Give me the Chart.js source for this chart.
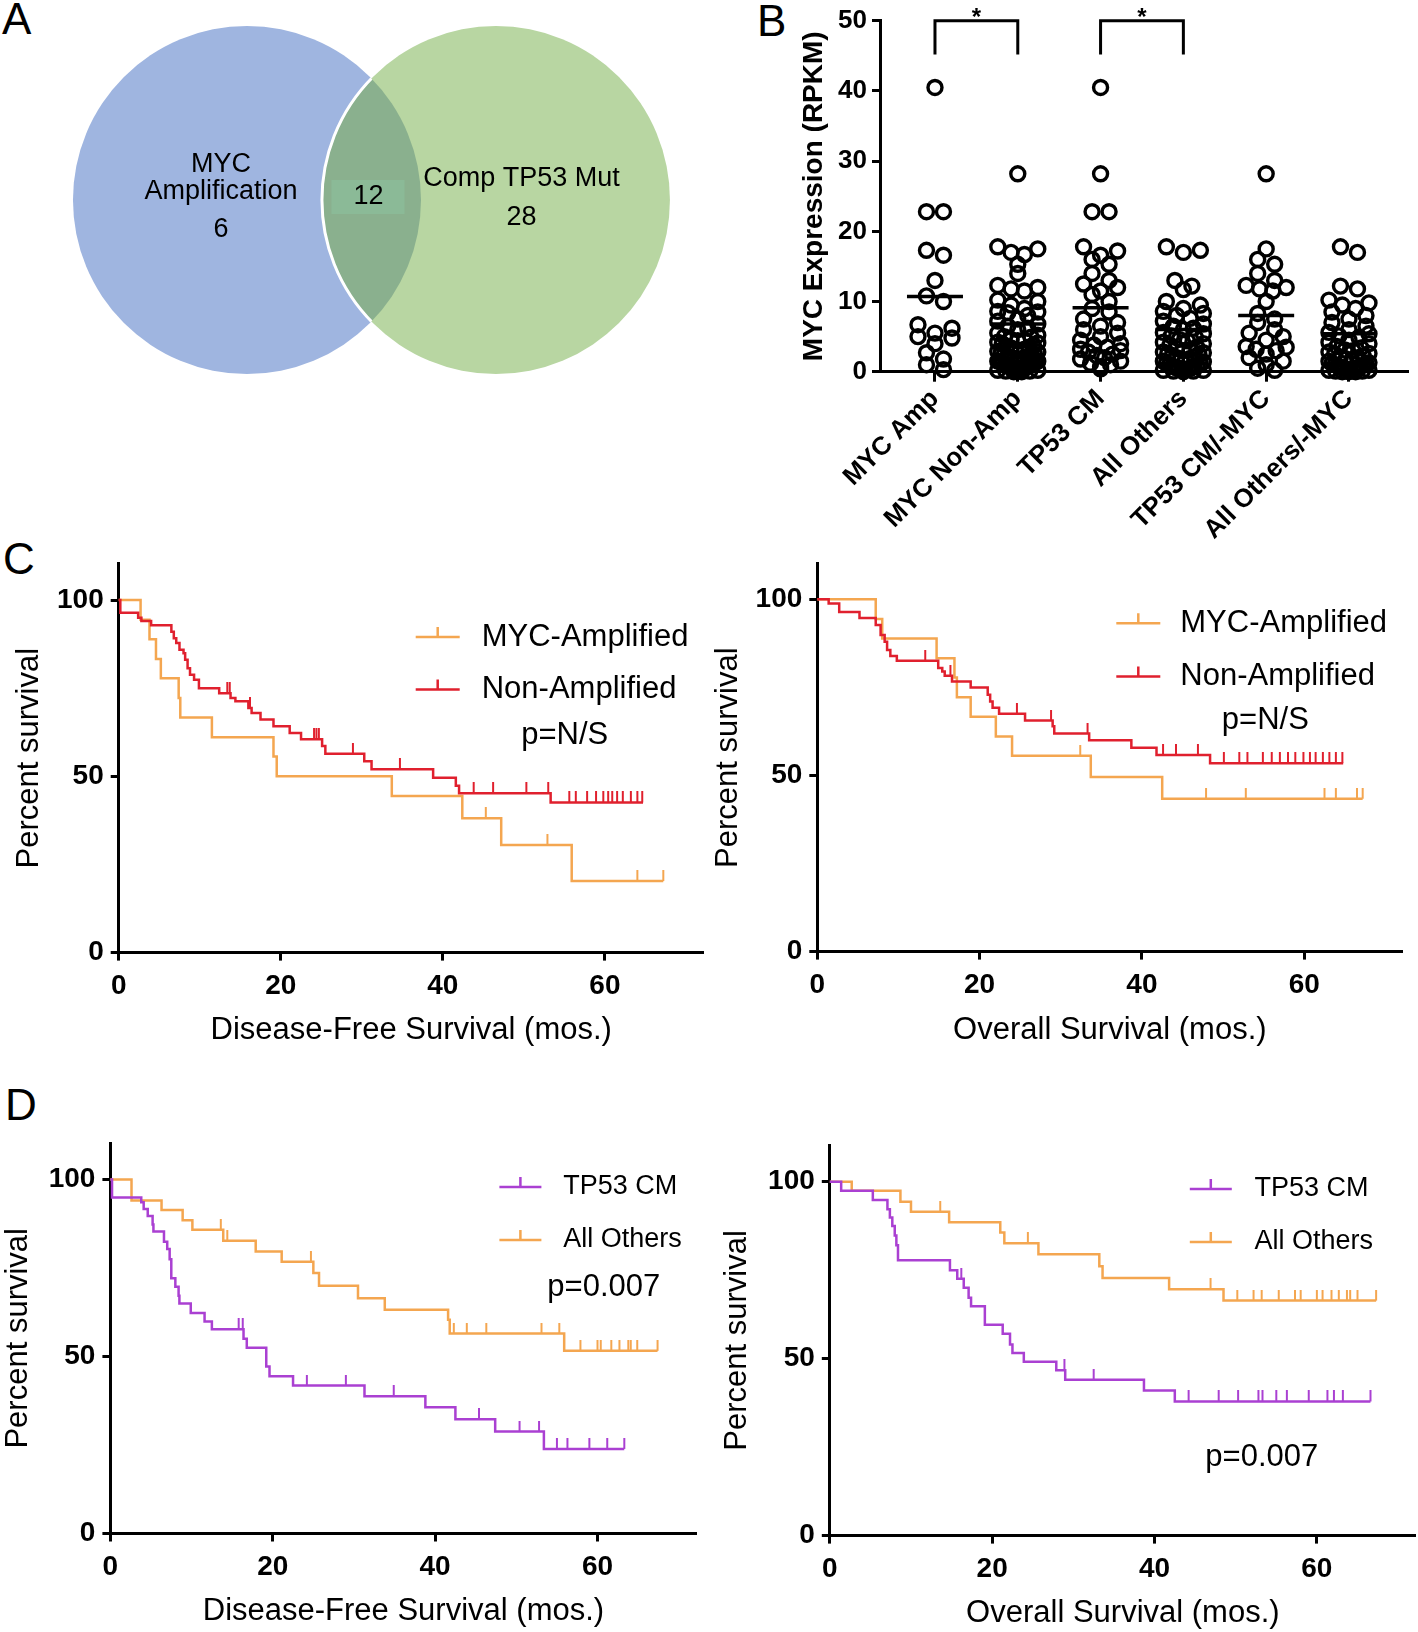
<!DOCTYPE html>
<html><head><meta charset="utf-8">
<script src="https://cdn.jsdelivr.net/npm/chart.js@4"></script>
<style>
body{margin:0;background:#fff;width:1418px;height:1632px;position:relative;overflow:hidden;font-family:'Liberation Sans',Arial,sans-serif;}
canvas{position:absolute;}
.pl{position:absolute;font-size:44px;line-height:1;color:#000;}
</style></head><body>
<div class="pl" style="left:2px;top:-3px">A</div>
<div class="pl" style="left:757px;top:-1px">B</div>
<div class="pl" style="left:3px;top:537px">C</div>
<div class="pl" style="left:5px;top:1083px">D</div>
<canvas id="venn" width="720" height="400" style="left:0;top:0"></canvas>
<canvas id="dots" width="678" height="560" style="left:740px;top:0"></canvas>
<canvas id="cDfs" width="712" height="510" style="left:0;top:540px"></canvas>
<canvas id="cOs" width="706" height="510" style="left:712px;top:540px"></canvas>
<canvas id="dDfs" width="712" height="542" style="left:0;top:1090px"></canvas>
<canvas id="dOs" width="706" height="542" style="left:712px;top:1090px"></canvas>
<script>
// ================= DATA =================
// Panel A (Venn)
const vennSetNames = [['MYC', 'Amplification'], ['Comp TP53 Mut']];
const vennOnlyCounts = [6, 28];
const vennSharedCount = 12;
const vennSetIndex = [0, 1];

// Panel B (dot plot)
const groupLabels = ['MYC Amp', 'MYC Non-Amp', 'TP53 CM', 'All Others', 'TP53 CM/-MYC', 'All Others/-MYC'];
const mycAmpVals = [40.5, 22.8, 22.8, 17.3, 16.6, 13.0, 10.8, 10.0, 6.7, 6.2, 5.5, 5.0, 4.8, 4.0, 2.7, 1.8, 1.0, 0.3];
const mycNonAmpVals = [28.2, 17.8, 17.5, 17.0, 16.7, 15.3, 14.0, 12.3, 12.0, 11.8, 11.5, 10.2, 10.0, 9.5, 9.0, 8.6, 8.5, 8.4, 8.0, 7.5, 7.2, 6.8, 6.5, 6.2, 6.0, 5.5, 5.2, 5.0, 4.9, 4.6, 4.5, 4.4, 4.2, 4.1, 4.0, 3.8, 3.6, 3.5, 3.4, 3.2, 3.0, 3.0, 2.9, 2.8, 2.6, 2.5, 2.5, 2.4, 2.2, 2.1, 2.0, 2.0, 1.9, 1.8, 1.7, 1.5, 1.5, 1.4, 1.3, 1.2, 1.1, 1.0, 1.0, 0.9, 0.8, 0.7, 0.6, 0.5, 0.5, 0.4, 0.3, 0.3, 0.2, 0.2, 0.1, 0.1, 0.0, 0.0];
const tp53CmVals = [40.5, 28.2, 22.8, 22.8, 17.8, 17.2, 16.6, 16.0, 15.3, 14.0, 13.0, 12.5, 12.0, 11.5, 11.0, 10.0, 9.0, 8.5, 7.5, 7.0, 6.5, 6.0, 5.5, 5.0, 4.5, 4.0, 3.8, 3.5, 3.2, 3.0, 2.8, 2.5, 2.3, 2.0, 1.8, 1.5, 1.2, 1.0, 0.7, 0.4];
const allOthersVals = [17.8, 17.3, 17.0, 13.0, 12.2, 11.7, 10.0, 9.5, 9.0, 8.6, 8.3, 8.0, 7.6, 7.2, 6.8, 6.5, 6.2, 6.0, 5.6, 5.4, 5.1, 4.9, 4.6, 4.4, 4.2, 4.0, 3.8, 3.5, 3.3, 3.1, 3.0, 2.8, 2.7, 2.6, 2.5, 2.3, 2.1, 2.0, 1.9, 1.8, 1.6, 1.5, 1.4, 1.2, 1.1, 1.0, 0.9, 0.8, 0.8, 0.6, 0.5, 0.5, 0.4, 0.3, 0.3, 0.2, 0.2, 0.1, 0.1, 0.0];
const tp53CmNoMycVals = [28.2, 17.5, 16.0, 15.3, 14.0, 13.0, 12.3, 12.0, 11.8, 11.5, 10.0, 8.3, 7.5, 7.0, 6.0, 5.5, 5.0, 4.5, 3.6, 3.5, 3.2, 3.0, 2.5, 2.0, 1.5, 1.0, 0.5, 0.2];
const allOthersNoMycVals = [17.8, 17.0, 12.2, 11.8, 10.2, 9.8, 9.5, 9.0, 8.5, 8.0, 7.5, 7.0, 6.5, 6.0, 5.6, 5.4, 5.1, 4.9, 4.5, 4.2, 4.0, 3.6, 3.4, 3.1, 3.0, 2.8, 2.6, 2.5, 2.2, 2.1, 2.0, 1.8, 1.6, 1.5, 1.3, 1.2, 1.1, 1.0, 0.9, 0.8, 0.7, 0.6, 0.5, 0.5, 0.4, 0.3, 0.3, 0.2, 0.2, 0.1, 0.1, 0.0, 0.0, 0.0];
const groupVals = [mycAmpVals, mycNonAmpVals, tp53CmVals, allOthersVals, tp53CmNoMycVals, allOthersNoMycVals];
const groupMeans = [10.7, 6.8, 9.1, 6.0, 8.0, 5.4];
const dotYTicks = [0, 10, 20, 30, 40, 50];
const sigPairs = [[0, 1], [2, 3]];
const sigLabels = ['*', '*'];
const sigBracketY = [45.2, 50];

// Panels C/D (Kaplan-Meier)
const kmXTicks = [0, 20, 40, 60];
const kmYTicks = [0, 50, 100];
const cLegendLabels = ['MYC-Amplified', 'Non-Amplified'];
const dLegendLabels = ['TP53 CM', 'All Others'];
const pValueTexts = ['p=N/S', 'p=N/S', 'p=0.007', 'p=0.007'];

// C left: disease-free survival, MYC amplified
const cDfsAmpT = [0, 2.7, 3.8, 4.6, 5.2, 7.4, 7.6, 11.5, 19.1, 19.5, 33.7, 42.4, 47.2, 55.9, 67.2];
const cDfsAmpS = [100, 94.4, 88.9, 83.3, 77.8, 72.2, 66.7, 61.1, 55.6, 50.0, 44.4, 38.1, 30.5, 20.3, 20.3];
const cDfsAmpCens = [45.3, 52.9, 64.0, 67.2];
// C left: non-amplified
const cDfsNonT = [0, 0.2, 2.4, 2.8, 4.0, 6.5, 6.8, 7.1, 7.5, 8.0, 8.2, 8.5, 8.8, 9.3, 9.9, 12.4, 13.8, 14.4, 16.0, 16.4, 17.5, 19.1, 21.1, 22.5, 25.1, 25.5, 30.3, 31.2, 38.8, 41.6, 42.0, 53.3, 64.7];
const cDfsNonS = [100, 96.4, 95.0, 94.1, 92.9, 91.0, 89.2, 87.8, 85.9, 84.9, 83.1, 80.7, 78.8, 77.4, 75.0, 73.6, 72.2, 71.3, 69.4, 68.0, 66.1, 64.2, 62.3, 60.5, 58.6, 56.4, 54.3, 52.0, 49.6, 47.3, 45.2, 42.6, 42.6];
const cDfsNonCens = [13.4, 13.7, 16.2, 24.1, 24.4, 24.7, 28.9, 34.7, 43.8, 46.2, 50.3, 53.0, 55.6, 56.4, 57.8, 58.9, 59.8, 60.4, 60.9, 61.5, 62.2, 63.2, 64.0, 64.6];
// C right: overall survival, MYC amplified
const cOsAmpT = [0, 7.2, 8.0, 14.7, 16.9, 17.2, 18.9, 22.0, 24.0, 33.7, 42.5, 67.2];
const cOsAmpS = [100, 94.4, 88.9, 83.3, 77.8, 72.2, 66.7, 61.1, 55.6, 49.6, 43.4, 43.4];
const cOsAmpCens = [32.4, 47.9, 52.8, 62.5, 63.9, 66.5, 67.2];
// C right: non-amplified
const cOsNonT = [0, 1.4, 2.7, 5.2, 7.2, 7.8, 8.3, 8.6, 9.0, 9.8, 14.9, 15.4, 15.7, 16.6, 18.9, 21.0, 21.3, 21.6, 22.4, 25.6, 29.0, 29.2, 33.5, 38.7, 41.8, 48.4, 64.8];
const cOsNonS = [100, 98.8, 96.4, 94.7, 92.7, 89.9, 88.0, 85.6, 83.9, 82.6, 80.5, 79.5, 78.3, 76.7, 75.0, 72.9, 71.0, 69.2, 67.5, 65.6, 64.0, 61.9, 60.0, 57.9, 55.8, 53.5, 53.5];
const cOsNonCens = [13.3, 16.4, 24.6, 28.8, 33.3, 42.6, 44.2, 46.9, 50.1, 52.0, 53.0, 54.9, 56.0, 57.0, 58.0, 58.9, 59.9, 60.7, 61.4, 62.3, 63.1, 63.9, 64.7];
// D left: disease-free survival, TP53 CM
const dDfsTpT = [0, 0.2, 3.8, 4.1, 4.6, 5.2, 5.3, 6.6, 7.0, 7.3, 7.5, 8.0, 8.4, 8.5, 9.9, 11.6, 12.5, 16.4, 16.8, 19.2, 19.6, 22.5, 31.3, 38.8, 42.5, 47.4, 53.4, 63.3];
const dDfsTpS = [100, 94.9, 93.6, 91.7, 89.7, 87.3, 85.3, 82.4, 80.4, 77.5, 72.1, 69.7, 67.2, 65.0, 62.3, 59.9, 57.7, 55.0, 52.5, 47.2, 44.4, 41.8, 38.8, 35.7, 32.3, 28.8, 23.9, 23.9];
const dDfsTpCens = [15.8, 16.3, 24.2, 29.0, 34.9, 45.4, 50.4, 52.8, 55.0, 56.3, 59.0, 61.2, 63.3];
// D left: all others
const dDfsOthT = [0, 2.6, 6.3, 8.9, 10.1, 13.9, 17.9, 21.1, 25.0, 25.7, 30.5, 33.8, 41.6, 41.8, 55.9, 67.4];
const dDfsOthS = [100, 94.1, 91.4, 88.5, 85.8, 82.7, 79.7, 76.8, 73.6, 70.0, 66.5, 63.2, 60.4, 56.5, 51.6, 51.6];
const dDfsOthCens = [13.6, 14.4, 24.7, 42.3, 43.9, 46.3, 53.1, 55.3, 57.9, 60.0, 60.4, 61.7, 62.7, 63.8, 64.1, 64.9, 67.4];
// D right: overall survival, TP53 CM
const dOsTpT = [0, 1.4, 5.3, 7.1, 7.4, 7.7, 8.0, 8.2, 8.4, 14.8, 15.7, 16.5, 17.1, 17.4, 19.1, 21.3, 22.2, 22.5, 23.9, 27.9, 29.0, 38.7, 42.5, 66.6];
const dOsTpS = [100, 97.4, 94.8, 92.2, 89.9, 87.5, 84.8, 82.0, 77.8, 75.0, 72.6, 70.0, 67.2, 64.8, 59.6, 57.0, 54.0, 51.6, 49.1, 46.7, 44.0, 41.0, 37.9, 37.9];
const dOsTpCens = [16.2, 28.9, 32.5, 44.2, 47.9, 50.3, 52.8, 53.3, 55.0, 56.3, 59.0, 61.3, 62.1, 63.2, 66.6];
// D right: all others
const dOsOthT = [0, 2.7, 8.7, 10.0, 14.7, 21.0, 21.5, 25.7, 33.2, 33.6, 41.8, 48.5, 67.3];
const dOsOthS = [100, 97.4, 94.3, 91.5, 88.5, 85.6, 82.6, 79.5, 76.1, 72.8, 69.6, 66.4, 66.4];
const dOsOthCens = [13.6, 24.4, 46.9, 50.2, 52.2, 53.2, 55.3, 57.3, 58.0, 60.0, 60.7, 61.8, 62.7, 63.7, 64.1, 65.0, 67.3];

// ================= STYLE / HELPERS =================
const FONT = "'Liberation Sans', Arial, sans-serif";
Chart.defaults.font.family = FONT;
Chart.defaults.color = '#000';
const ORANGE = '#f4a650', RED = '#e0202e', PURPLE = '#aa40d2';

// ---------- Panel A: Venn ----------
const vennPlugin = {
  id: 'vennLens',
  afterDatasetsDraw(chart) {
    const ctx = chart.ctx, pts = chart.getDatasetMeta(0).data;
    const a = pts[0], b = pts[1], r = a.options.radius;
    ctx.save();
    ctx.beginPath(); ctx.arc(a.x, a.y, r, 0, Math.PI * 2); ctx.clip();
    ctx.beginPath(); ctx.arc(b.x, b.y, r, 0, Math.PI * 2);
    ctx.fillStyle = '#8ab08e'; ctx.fill();
    ctx.lineWidth = 3; ctx.strokeStyle = '#ffffff'; ctx.stroke();
    const mx = (a.x + b.x) / 2, my = (a.y + b.y) / 2;
    ctx.fillStyle = '#8bba97';
    ctx.fillRect(mx - 40, my - 20, 73, 34);
    ctx.restore();
    ctx.save();
    ctx.fillStyle = '#000'; ctx.font = '27px ' + FONT; ctx.textAlign = 'center'; ctx.textBaseline = 'middle';
    ctx.fillText(vennSetNames[0][0], a.x - 26, a.y - 35.5);
    ctx.fillText(vennSetNames[0][1], a.x - 26, a.y - 8.5);
    ctx.fillText(String(vennOnlyCounts[0]), a.x - 26, a.y + 30);
    ctx.fillText(String(vennSharedCount), mx - 3, my - 3);
    ctx.fillText(vennSetNames[1][0], b.x + 25.6, b.y - 21);
    ctx.fillText(String(vennOnlyCounts[1]), b.x + 25.6, b.y + 17.5);
    ctx.restore();
  }
};
new Chart(document.getElementById('venn'), {
  type: 'scatter',
  data: { datasets: [{ data: vennSetIndex.map(i => ({ x: i, y: 0 })), pointRadius: 174, pointBorderWidth: 0,
    pointBackgroundColor: ['#9fb5e0', '#b8d6a2'], clip: false }] },
  options: { responsive: false, animation: false, events: [],
    layout: { autoPadding: false, padding: 0 },
    plugins: { legend: { display: false }, tooltip: { enabled: false } },
    scales: { x: { display: false, min: -0.992, max: 1.9 }, y: { display: false, min: -1, max: 1 } } },
  plugins: [vennPlugin]
});

// ---------- Panel B: dot plot ----------
// GraphPad-like layout: points falling in the same vertical band are spread symmetrically in a row
function rowOffsets(vals, pxX, pxY, binPx, spacePx, maxPx) {
  const order = vals.map((v, i) => i).sort((p, q) => vals[q] - vals[p]);
  const offs = new Array(vals.length).fill(0);
  let k = 0;
  while (k < order.length) {
    const top = vals[order[k]] * pxY;
    const row = [];
    while (k < order.length && top - vals[order[k]] * pxY < binPx) { row.push(order[k]); k++; }
    const n = row.length;
    const sp = n > 1 ? Math.min(spacePx, (2 * maxPx) / (n - 1)) : 0;
    // interleave so neighbouring values alternate sides
    const slots = row.map((_, i) => (i - (n - 1) / 2) * sp);
    const arranged = [];
    for (let i = 0; i < n; i++) arranged.push(i % 2 === 0 ? slots[Math.floor(i / 2)] : slots[n - 1 - Math.floor(i / 2)]);
    row.forEach((idx, i) => { offs[idx] = arranged[i] / pxX; });
  }
  return offs;
}
const starPlugin = {
  id: 'sigStars',
  afterDatasetsDraw(chart) {
    const ctx = chart.ctx, xs = chart.scales.x, ys = chart.scales.y;
    ctx.save(); ctx.fillStyle = '#000'; ctx.font = 'bold 24px ' + FONT; ctx.textAlign = 'center'; ctx.textBaseline = 'middle';
    sigPairs.forEach((p, i) => ctx.fillText(sigLabels[i], xs.getPixelForValue((p[0] + p[1]) / 2), ys.getPixelForValue(51.2) + 6));
    ctx.restore();
  }
};
const dotDatasets = groupVals.map((vals, g) => ({
  type: 'scatter', data: vals.map(v => ({ x: g, y: v })), pointRadius: 7, pointBorderWidth: 3.4,
  pointBorderColor: '#000', pointBackgroundColor: 'rgba(0,0,0,0)', clip: false
}));
dotDatasets.push({ type: 'scatter', data: groupMeans.map((m, g) => ({ x: g, y: m })), pointStyle: 'line',
  pointRadius: 28, pointBorderWidth: 3.5, pointBorderColor: '#000', clip: false });
sigPairs.forEach(p => dotDatasets.push({ type: 'line', data: [{ x: p[0], y: sigBracketY[0] }, { x: p[0], y: sigBracketY[1] },
  { x: p[1], y: sigBracketY[1] }, { x: p[1], y: sigBracketY[0] }], borderColor: '#000', borderWidth: 3, pointRadius: 0, fill: false, clip: false }));
const dotChart = new Chart(document.getElementById('dots'), {
  type: 'scatter',
  data: { datasets: dotDatasets },
  options: { responsive: false, animation: false, events: [],
    layout: { autoPadding: false, padding: { left: 0, top: 20.8, right: 10, bottom: 0 } },
    plugins: { legend: { display: false }, tooltip: { enabled: false } },
    scales: {
      x: { type: 'linear', min: -0.664, max: 5.713,
        afterBuildTicks: s => { s.ticks = groupLabels.map((l, i) => ({ value: i })); },
        afterFit: s => { s.height = 188.3; },
        grid: { display: true, drawOnChartArea: false, drawTicks: true, tickLength: 10, tickWidth: 3, tickColor: '#000' },
        border: { display: true, width: 3, color: '#000' },
        ticks: { autoSkip: false, minRotation: 45, maxRotation: 45, padding: 2, color: '#000',
          font: { size: 26, weight: 'bold' }, callback: v => groupLabels[v] }
      },
      y: { min: 0, max: 50,
        afterBuildTicks: s => { s.ticks = dotYTicks.map(v => ({ value: v })); },
        afterFit: s => { s.width = 140; },
        grid: { display: true, drawOnChartArea: false, drawTicks: true, tickLength: 8, tickWidth: 3, tickColor: '#000' },
        border: { display: true, width: 3, color: '#000' },
        ticks: { padding: 5, color: '#000', font: { size: 26, weight: 'bold' } },
        title: { display: true, text: 'MYC Expression (RPKM)', color: '#000', font: { size: 28, weight: 'bold', lineHeight: 1 }, padding: { top: 60, bottom: 0 } }
      }
    } },
  plugins: [starPlugin]
});
(function () {
  const xs = dotChart.scales.x, ys = dotChart.scales.y;
  const pxX = Math.abs(xs.getPixelForValue(1) - xs.getPixelForValue(0));
  const pxY = Math.abs(ys.getPixelForValue(0) - ys.getPixelForValue(1));
  groupVals.forEach((vals, g) => {
    const offs = rowOffsets(vals, pxX, pxY, 9, 17, 20);
    dotChart.data.datasets[g].data = vals.map((v, i) => ({ x: g + offs[i], y: v }));
  });
  dotChart.update('none');
})();

// ---------- Panels C/D: Kaplan-Meier ----------
function stepValue(T, S, t) { let v = S[0]; for (let i = 0; i < T.length; i++) if (T[i] <= t) v = S[i]; return v; }
function tickImage(color) {
  const c = document.createElement('canvas'); c.width = 4; c.height = 22;
  const g = c.getContext('2d'); g.strokeStyle = color; g.lineWidth = 2;
  g.beginPath(); g.moveTo(2, 0); g.lineTo(2, 11); g.stroke(); return c;
}
const kmLegendPlugin = {
  id: 'kmLegend',
  afterDraw(chart, args, o) {
    const ctx = chart.ctx, a = chart.chartArea;
    ctx.save();
    o.items.forEach((it, i) => {
      const y = a.top + o.y + i * o.rowGap, x0 = a.left + o.x;
      ctx.strokeStyle = it.color; ctx.lineWidth = 2.5;
      ctx.beginPath(); ctx.moveTo(x0, y); ctx.lineTo(x0 + o.len, y);
      ctx.moveTo(x0 + o.len / 2, y); ctx.lineTo(x0 + o.len / 2, y - 10); ctx.stroke();
      ctx.fillStyle = '#000'; ctx.font = o.font + ' ' + FONT; ctx.textBaseline = 'middle'; ctx.textAlign = 'left';
      ctx.fillText(it.label, x0 + o.textX, y);
    });
    ctx.font = '31px ' + FONT; ctx.textAlign = 'center'; ctx.textBaseline = 'middle'; ctx.fillStyle = '#000';
    ctx.fillText(o.pText, a.left + o.pX, a.top + o.pY);
    ctx.restore();
  }
};
function kmChart(id, c) {
  const datasets = [];
  c.curves.forEach((cv, k) => {
    datasets.push({ type: 'line', label: cv.label, data: cv.T.map((t, i) => ({ x: t, y: cv.S[i] })), stepped: true,
      borderColor: cv.color, borderWidth: 2.5, pointRadius: 0, fill: false, clip: false, order: cv.order });
    datasets.push({ type: 'line', data: cv.C.map(t => ({ x: t, y: stepValue(cv.T, cv.S, t) })), showLine: false,
      pointStyle: tickImage(cv.color), pointRadius: 5, clip: false, order: cv.order });
  });
  return new Chart(document.getElementById(id), {
    type: 'line',
    data: { datasets },
    options: { responsive: false, animation: false, events: [],
      layout: { autoPadding: false, padding: { left: 0, top: c.padTop, right: c.padRight, bottom: 0 } },
      plugins: { legend: { display: false }, tooltip: { enabled: false },
        kmLegend: Object.assign({ items: c.curves.map(cv => ({ label: cv.label, color: cv.color })) }, c.legend) },
      scales: {
        x: { type: 'linear', min: 0, max: c.xMax,
          afterBuildTicks: s => { s.ticks = kmXTicks.map(v => ({ value: v })); },
          afterFit: s => { s.height = c.xH; },
          grid: { display: true, drawOnChartArea: false, drawTicks: true, tickLength: 8, tickWidth: 3, tickColor: '#000' },
          border: { display: true, width: 3, color: '#000' },
          ticks: { autoSkip: false, maxRotation: 0, padding: 9, color: '#000', font: { size: 28, weight: 'bold' } },
          title: { display: true, text: c.xTitle, color: '#000', font: { size: 31, lineHeight: 1 }, padding: { top: 0, bottom: c.xTitlePad } }
        },
        y: { type: 'linear', min: 0, max: c.yMax,
          afterBuildTicks: s => { s.ticks = kmYTicks.map(v => ({ value: v })); },
          afterFit: s => { s.width = c.yW; },
          grid: { display: true, drawOnChartArea: false, drawTicks: true, tickLength: 8, tickWidth: 3, tickColor: '#000' },
          border: { display: true, width: 3, color: '#000' },
          ticks: { padding: 7, color: '#000', font: { size: 28, weight: 'bold' } },
          title: { display: true, text: 'Percent survival', color: '#000', font: { size: 31, lineHeight: 1 }, padding: { top: c.yTitlePad, bottom: 0 } }
        }
      } },
    plugins: [kmLegendPlugin]
  });
}
kmChart('cDfs', { padTop: 22.2, padRight: 8.2, yW: 118.7, xH: 97.4, xMax: 72.2, yMax: 110.3, yTitlePad: 13.5, xTitlePad: 3.8,
  xTitle: 'Disease-Free Survival (mos.)',
  curves: [{ label: cLegendLabels[0], color: ORANGE, T: cDfsAmpT, S: cDfsAmpS, C: cDfsAmpCens, order: 1 },
           { label: cLegendLabels[1], color: RED, T: cDfsNonT, S: cDfsNonS, C: cDfsNonCens, order: 0 }],
  legend: { x: 297, y: 73.3, rowGap: 52.5, len: 44, textX: 66, font: '31px', pText: pValueTexts[0], pX: 446, pY: 172 } });
kmChart('cOs', { padTop: 22, padRight: 15.6, yW: 105.3, xH: 98.4, xMax: 72.1, yMax: 110.1, yTitlePad: 1.3, xTitlePad: 3.8,
  xTitle: 'Overall Survival (mos.)',
  curves: [{ label: cLegendLabels[0], color: ORANGE, T: cOsAmpT, S: cOsAmpS, C: cOsAmpCens, order: 1 },
           { label: cLegendLabels[1], color: RED, T: cOsNonT, S: cOsNonS, C: cOsNonCens, order: 0 }],
  legend: { x: 299, y: 59.5, rowGap: 53.1, len: 44, textX: 64, font: '31px', pText: pValueTexts[1], pX: 448, pY: 156.4 } });
kmChart('dDfs', { padTop: 53.1, padRight: 15.5, yW: 110.4, xH: 98.5, xMax: 72.2, yMax: 110.3, yTitlePad: 3.2, xTitlePad: 4.9,
  xTitle: 'Disease-Free Survival (mos.)',
  curves: [{ label: dLegendLabels[0], color: PURPLE, T: dDfsTpT, S: dDfsTpS, C: dDfsTpCens, order: 0 },
           { label: dLegendLabels[1], color: ORANGE, T: dDfsOthT, S: dDfsOthS, C: dDfsOthCens, order: 1 }],
  legend: { x: 389, y: 43.8, rowGap: 53.1, len: 42, textX: 63.8, font: '27px', pText: pValueTexts[2], pX: 493.4, pY: 144.7 } });
kmChart('dOs', { padTop: 55.2, padRight: 2.1, yW: 117.8, xH: 96.4, xMax: 72.2, yMax: 110.3, yTitlePad: 9.5, xTitlePad: 2.8,
  xTitle: 'Overall Survival (mos.)',
  curves: [{ label: dLegendLabels[0], color: PURPLE, T: dOsTpT, S: dOsTpS, C: dOsTpCens, order: 0 },
           { label: dLegendLabels[1], color: ORANGE, T: dOsOthT, S: dOsOthS, C: dOsOthCens, order: 1 }],
  legend: { x: 360, y: 43.7, rowGap: 53.1, len: 42, textX: 64.7, font: '27px', pText: pValueTexts[3], pX: 432, pY: 312.3 } });
</script>
</body></html>
